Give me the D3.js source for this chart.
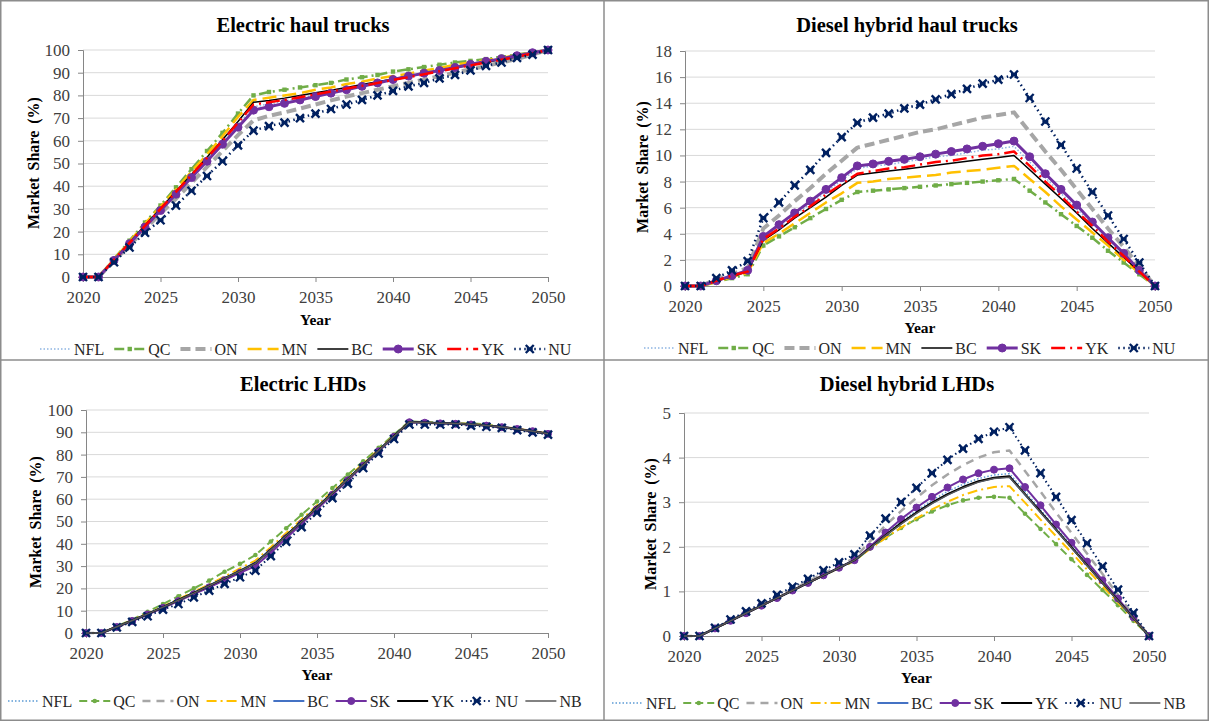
<html>
  <head>
    <title>Market share of mining vehicles by province</title>
    <script src="https://d3js.org/d3.v7.min.js"></script>
    <style>
      body {
        margin: 0;
        background-color: white;
      }
      svg text {
        font-family: "Liberation Serif", "Times New Roman", serif;
      }
    </style>
  </head>
  <body>
    <svg width="1209" height="721"></svg>

    <script>
      // ---- data ----
      var years = [2020, 2021, 2022, 2023, 2024, 2025, 2026, 2027, 2028, 2029, 2030,
                   2031, 2032, 2033, 2034, 2035, 2036, 2037, 2038, 2039, 2040,
                   2041, 2042, 2043, 2044, 2045, 2046, 2047, 2048, 2049, 2050];
      var xTicks = [2020, 2025, 2030, 2035, 2040, 2045, 2050];

      var haulRegions = ["NFL", "QC", "ON", "MN", "BC", "SK", "YK", "NU"];
      var lhdRegions = ["NFL", "QC", "ON", "MN", "BC", "SK", "YK", "NU", "NB"];

      var electricHaulTicks = [0, 10, 20, 30, 40, 50, 60, 70, 80, 90, 100];
      var dieselHaulTicks = [0, 2, 4, 6, 8, 10, 12, 14, 16, 18];
      var electricLhdTicks = [0, 10, 20, 30, 40, 50, 60, 70, 80, 90, 100];
      var dieselLhdTicks = [0, 1, 2, 3, 4, 5];

      // one row per region, same order as haulRegions
      var electricHaul = [
        [0,0,7.4,14.8,22.2,29.6,37,44.4,51.8,59.2,67,75,76.2,77.5,78.8,80.2,81.5,82.8,84.2,85.5,86.8,88.2,89.5,90.8,92.2,93.5,94.8,96,97.4,98.7,100], // NFL
        [0,0,8,16,24,31.5,39.5,47.5,55.5,63.5,72,80,81.5,82.5,83.5,84.5,85.5,87,88,89,90.5,91.5,92.5,93.5,94.5,95.2,96,97,98,99,100], // QC
        [0,0,7,14,21,28,34.5,41.5,48.5,55.5,62.5,69,71,72.5,74.2,76,77.8,79.5,81,82.5,84,85.5,87,88.5,90,91.5,93,94.5,96,98,100], // ON
        [0,0,7.8,15.6,23.5,31,38.5,46.5,54,62,70.5,78,79,80,81,82.5,83.5,85,86,87.5,88.5,89.5,91,92,93.5,94.5,95.5,96.5,97.8,98.8,100], // MN
        [0,0,7.5,15.2,22.8,30.2,37.8,45.2,52.8,60.5,68.5,77,77.8,78.8,80,81.2,82.3,83.5,84.8,86,87.2,88.5,89.7,91,92.2,93.3,94.6,95.8,97,98.5,100], // BC
        [0,0,7.3,14.7,22,29.3,36.5,43.8,51,58.5,66,73.5,75,76.5,78,79.5,81,82.5,84,85.5,87,88.5,89.8,91,92.3,93.7,95,96.2,97.5,98.8,100], // SK
        [0,0,7.5,15,22.5,30,37.5,45,52.5,60,68,76,77,78,79.2,80.5,81.7,83,84.2,85.5,86.8,88,89.3,90.6,92,93.2,94.5,95.7,97,98.5,100], // YK
        [0,0,6.5,13,19.5,25,31.5,38,44.5,51,58,64.5,66.5,68,70,72,74,76,78,80,82,84,85.5,87.5,89,91,93,94.5,96.5,98,100] // NU
      ];

      var dieselHaul = [
        [0,0,0.4,0.8,1.2,3.7,4.6,5.4,6.3,7.2,8.1,9.0,9.2,9.3,9.5,9.7,9.9,10.0,10.2,10.4,10.5,10.7,9.5,8.3,7.1,5.9,4.8,3.6,2.4,1.2,0], // NFL
        [0,0,0.3,0.6,0.9,3.1,3.8,4.5,5.2,5.9,6.6,7.2,7.3,7.4,7.5,7.6,7.7,7.8,7.9,8.0,8.1,8.2,7.3,6.4,5.5,4.6,3.7,2.7,1.8,0.9,0], // QC
        [0,0,0.5,0.9,1.4,4.4,5.4,6.5,7.5,8.6,9.6,10.6,10.9,11.2,11.5,11.8,12.0,12.3,12.6,12.9,13.1,13.3,11.8,10.3,8.9,7.4,5.9,4.4,3.0,1.5,0], // ON
        [0,0,0.3,0.7,1.0,3.3,4.0,4.8,5.6,6.4,7.1,7.9,8.0,8.2,8.3,8.4,8.5,8.7,8.8,8.9,9.05,9.2,8.2,7.2,6.1,5.1,4.1,3.1,2.0,1.0,0], // MN
        [0,0,0.4,0.7,1.1,3.5,4.3,5.2,6.0,6.8,7.7,8.5,8.65,8.8,8.95,9.1,9.25,9.4,9.55,9.7,9.85,10.0,8.9,7.8,6.7,5.6,4.4,3.3,2.2,1.1,0], // BC
        [0,0,0.4,0.8,1.2,3.8,4.7,5.6,6.5,7.4,8.3,9.2,9.35,9.55,9.7,9.9,10.1,10.3,10.5,10.7,10.9,11.1,9.9,8.6,7.4,6.2,4.9,3.7,2.5,1.2,0], // SK
        [0,0,0.4,0.8,1.1,3.6,4.4,5.3,6.1,7.0,7.8,8.6,8.8,9.0,9.1,9.3,9.5,9.6,9.8,10.0,10.1,10.3,9.2,8.0,6.9,5.7,4.6,3.4,2.3,1.1,0], // YK
        [0,0,0.6,1.2,1.9,5.2,6.4,7.7,8.9,10.2,11.4,12.5,12.9,13.2,13.6,13.9,14.3,14.7,15.1,15.5,15.8,16.2,14.4,12.6,10.8,9.0,7.2,5.4,3.6,1.8,0] // NU
      ];

      // one row per region, same order as lhdRegions
      var electricLhd = [
        [0,0,2.8,5.6,8.5,11.6,14.7,17.9,21.1,24.4,27.8,31.2,37.3,43.6,49.9,56.3,62.6,69,75.4,81.8,88.2,94.6,94.4,94.1,93.9,93.6,93.1,92.4,91.5,90.5,89.4], // NFL
        [0,0,3,6,9.5,13,16.5,20,23.5,27.5,31,35,41,47,53,59,65,71,77,83,89,95,94.5,94.5,94,94,93.5,92.5,91.5,90.5,89.5], // QC
        [0,0,2.7,5.5,8.4,11.4,14.5,17.6,20.8,24,27.4,30.7,36.8,43.2,49.5,56,62.4,68.8,75.2,81.7,88.1,94.5,94.3,94,93.8,93.5,93,92.3,91.5,90.5,89.3], // ON
        [0,0,2.9,5.8,8.8,12,15.2,18.5,21.8,25.3,29,32.5,38.5,44.8,51,57.3,63.5,69.8,76,82.3,88.5,94.8,94.5,94.3,94,93.7,93.2,92.5,91.6,90.6,89.5], // MN
        [0,0,2.8,5.6,8.6,11.7,14.8,18,21.3,24.6,28,31.5,37.5,43.8,50,56.5,62.8,69.2,75.5,82,88.3,94.7,94.4,94.2,93.9,93.6,93.1,92.4,91.5,90.5,89.4], // BC
        [0,0,2.7,5.4,8.3,11.3,14.3,17.4,20.5,23.7,27,30,36,42.5,49,55.5,62,68.5,75,81.5,88,94.5,94.3,94,93.8,93.5,93,92.3,91.5,90.5,89.3], // SK
        [0,0,2.8,5.6,8.6,11.6,14.8,18,21.2,24.5,27.9,31.3,37.4,43.7,50,56.4,62.7,69.1,75.5,81.9,88.3,94.6,94.4,94.1,93.9,93.6,93.1,92.4,91.5,90.5,89.4], // YK
        [0,0,2.5,5,7.5,10.5,13,16,19,22,25,28,34.5,41,47.5,54,60.5,67,74,80.5,87,93.5,93.5,93.5,93.5,93,92.5,92,91,90,89], // NU
        [0,0,2.8,5.6,8.6,11.6,14.7,17.9,21.2,24.5,27.8,31.2,37.3,43.6,49.9,56.3,62.6,69,75.4,81.8,88.2,94.6,94.4,94.1,93.9,93.6,93.1,92.4,91.5,90.5,89.4] // NB
      ];

      var dieselLhd = [
        [0,0,0.17,0.34,0.51,0.68,0.85,1.02,1.19,1.36,1.53,1.7,1.99,2.28,2.56,2.81,3.04,3.24,3.4,3.53,3.61,3.64,3.24,2.83,2.43,2.02,1.62,1.21,0.81,0.4,0], // NFL
        [0,0,0.17,0.34,0.51,0.68,0.85,1.02,1.19,1.36,1.52,1.68,1.96,2.2,2.42,2.62,2.79,2.93,3.04,3.1,3.12,3.1,2.74,2.4,2.06,1.72,1.37,1.03,0.69,0.34,0], // QC
        [0,0,0.17,0.35,0.52,0.7,0.87,1.05,1.22,1.4,1.57,1.75,2.12,2.48,2.8,3.1,3.38,3.62,3.83,4.0,4.12,4.16,3.7,3.24,2.77,2.31,1.85,1.39,0.92,0.46,0], // ON
        [0,0,0.17,0.34,0.51,0.68,0.85,1.02,1.19,1.36,1.52,1.69,1.95,2.2,2.43,2.64,2.84,3.01,3.16,3.27,3.34,3.36,2.99,2.61,2.24,1.87,1.49,1.12,0.75,0.37,0], // MN
        [0,0,0.17,0.34,0.51,0.68,0.85,1.02,1.19,1.36,1.53,1.7,1.98,2.26,2.52,2.76,2.98,3.17,3.33,3.46,3.54,3.57,3.17,2.78,2.38,1.98,1.59,1.19,0.79,0.4,0], // BC
        [0,0,0.17,0.34,0.51,0.68,0.85,1.02,1.19,1.36,1.53,1.7,2.0,2.32,2.62,2.88,3.12,3.33,3.51,3.65,3.73,3.76,3.34,2.93,2.5,2.09,1.67,1.25,0.84,0.42,0], // SK
        [0,0,0.17,0.34,0.51,0.68,0.85,1.02,1.19,1.36,1.53,1.7,1.98,2.26,2.53,2.77,2.99,3.18,3.34,3.47,3.55,3.58,3.18,2.79,2.39,1.99,1.59,1.19,0.8,0.4,0], // YK
        [0,0,0.18,0.37,0.55,0.73,0.92,1.1,1.28,1.47,1.65,1.83,2.25,2.63,3.0,3.32,3.65,3.95,4.2,4.42,4.58,4.68,4.16,3.65,3.12,2.6,2.08,1.56,1.04,0.52,0], // NU
        [0,0,0.17,0.34,0.51,0.68,0.85,1.02,1.19,1.36,1.53,1.7,1.97,2.25,2.51,2.75,2.97,3.16,3.32,3.45,3.53,3.56,3.17,2.77,2.38,1.98,1.58,1.19,0.79,0.4,0] // NB
      ];

      // ---- series styles ----
      var haulStyles = {
        NFL: {color: "#8DB4E2", width: 1.5, dash: "1.5,2"},
        QC:  {color: "#70AD47", width: 2.5, dash: "10,4,2,4", marker: "square"},
        ON:  {color: "#A6A6A6", width: 4, dash: "10,5"},
        MN:  {color: "#FFC000", width: 2.5, dash: "14,6"},
        BC:  {color: "#000000", width: 1.5},
        SK:  {color: "#7030A0", width: 3, marker: "circle"},
        YK:  {color: "#FF0000", width: 2.5, dash: "14,5,2,5"},
        NU:  {color: "#002060", width: 2.5, dash: "1.5,3.5", marker: "x"}
      };

      var lhdStyles = {
        NFL: {color: "#5B9BD5", width: 1.5, dash: "1.5,2"},
        QC:  {color: "#70AD47", width: 2, dash: "8,4", marker: "dot"},
        ON:  {color: "#A6A6A6", width: 2.5, dash: "8,6"},
        MN:  {color: "#FFC000", width: 2, dash: "10,4,2,4"},
        BC:  {color: "#4472C4", width: 2},
        SK:  {color: "#7030A0", width: 2, marker: "circle"},
        YK:  {color: "#000000", width: 2},
        NU:  {color: "#002060", width: 2, dash: "1.5,3", marker: "x"},
        NB:  {color: "#595959", width: 1.5}
      };

      var serif = '"Liberation Serif", "Times New Roman", serif';

      var panels = [
        {title: "Electric haul trucks", regions: haulRegions, values: electricHaul, styles: haulStyles,
         ticks: electricHaulTicks, x0: 83, x1: 548, yTop: 50, yBottom: 277,
         titleX: 303, titleY: 32, yLabelX: 33, yLabelY: 163, xLabelY: 325,
         legendX: 40, legendY: 349, legendGap: 10, markerR: 4},
        {title: "Diesel hybrid haul trucks", regions: haulRegions, values: dieselHaul, styles: haulStyles,
         ticks: dieselHaulTicks, x0: 685, x1: 1155, yTop: 51, yBottom: 286,
         titleX: 907, titleY: 32, yLabelX: 642, yLabelY: 167, xLabelY: 333,
         legendX: 644, legendY: 348, legendGap: 10, markerR: 4},
        {title: "Electric LHDs", regions: lhdRegions, values: electricLhd, styles: lhdStyles,
         ticks: electricLhdTicks, x0: 86, x1: 548, yTop: 410, yBottom: 633,
         titleX: 303, titleY: 391, yLabelX: 35, yLabelY: 522, xLabelY: 680,
         legendX: 8, legendY: 701, legendGap: 7, markerR: 3.5},
        {title: "Diesel hybrid LHDs", regions: lhdRegions, values: dieselLhd, styles: lhdStyles,
         ticks: dieselLhdTicks, x0: 684, x1: 1149, yTop: 413, yBottom: 636,
         titleX: 907, titleY: 391, yLabelX: 650, yLabelY: 524, xLabelY: 683,
         legendX: 612, legendY: 703, legendGap: 7, markerR: 3.5}
      ];

      var svg = d3.select("svg");

      svg.append("rect")
        .attr("width", 1209)
        .attr("height", 721)
        .attr("fill", "white");

      // draws one marker symbol centred at x, y
      var drawMarker = function(g, style, x, y, r){
        if(style.marker === "circle"){
          g.append("circle").attr("cx", x).attr("cy", y).attr("r", r)
            .attr("fill", style.color).attr("stroke", style.color);
        } else if(style.marker === "dot"){
          g.append("circle").attr("cx", x).attr("cy", y).attr("r", 2.3)
            .attr("fill", style.color);
        } else if(style.marker === "square"){
          g.append("rect").attr("x", x - 2.2).attr("y", y - 2.2)
            .attr("width", 4.4).attr("height", 4.4).attr("fill", style.color);
        } else if(style.marker === "x"){
          var s = 4;
          g.append("path")
            .attr("d", "M" + (x - s) + "," + (y - s) + "L" + (x + s) + "," + (y + s) +
                       "M" + (x - s) + "," + (y + s) + "L" + (x + s) + "," + (y - s) +
                       "M" + (x - 3) + "," + y + "L" + (x + 3) + "," + y)
            .attr("stroke", style.color)
            .attr("stroke-width", 2.4)
            .attr("fill", "none");
        }
      };

      var drawPanel = function(p){
        var x = d3.scaleLinear().domain([2020, 2050]).range([p.x0, p.x1]);
        var y = d3.scaleLinear().domain([0, d3.max(p.ticks)]).range([p.yBottom, p.yTop]);
        var g = svg.append("g").attr("font-family", serif);

        // gridlines
        g.append("g")
          .selectAll("line")
          .data(p.ticks.slice(1))
          .join("line")
          .attr("x1", p.x0).attr("x2", p.x1)
          .attr("y1", function(d){ return y(d); })
          .attr("y2", function(d){ return y(d); })
          .attr("stroke", "#D9D9D9")
          .attr("stroke-width", 1);

        var yAxis = g.append("g")
          .attr("transform", "translate(" + p.x0 + ",0)")
          .call(d3.axisLeft(y).tickValues(p.ticks).tickFormat(d3.format("d")).tickSize(5).tickPadding(8));

        var xAxis = g.append("g")
          .attr("transform", "translate(0," + p.yBottom + ")")
          .call(d3.axisBottom(x).tickValues(xTicks).tickFormat(d3.format("d")).tickSize(5).tickPadding(9));

        [yAxis, xAxis].forEach(function(a){
          a.attr("font-family", serif);
          a.selectAll("path, line").attr("stroke", "#868686").attr("stroke-width", 1);
          a.selectAll("text")
            .attr("fill", "#404040")
            .style("font-family", serif)
            .style("font-size", "17px");
        });

        // series, first region drawn first (last one ends on top)
        var line = d3.line()
          .x(function(d, i){ return x(years[i]); })
          .y(function(d){ return y(d); });

        p.regions.forEach(function(region, k){
          var style = p.styles[region];
          var vals = p.values[k];
          var sg = g.append("g");
          sg.append("path")
            .datum(vals)
            .attr("d", line)
            .attr("fill", "none")
            .attr("stroke", style.color)
            .attr("stroke-width", style.width)
            .attr("stroke-dasharray", style.dash || null)
            .attr("stroke-linejoin", "round");
          if(style.marker){
            vals.forEach(function(v, i){
              drawMarker(sg, style, x(years[i]), y(v), p.markerR);
            });
          }
        });

        // titles
        g.append("text")
          .attr("x", p.titleX).attr("y", p.titleY)
          .attr("text-anchor", "middle")
          .style("font-size", "20.5px")
          .style("font-weight", "bold")
          .text(p.title);

        g.append("text")
          .attr("transform", "translate(" + p.yLabelX + "," + p.yLabelY + ") rotate(-90)")
          .attr("text-anchor", "middle")
          .attr("dy", "0.35em")
          .style("font-size", "16px")
          .style("font-weight", "bold")
          .style("word-spacing", "3px")
          .text("Market Share (%)");

        g.append("text")
          .attr("x", (p.x0 + p.x1) / 2).attr("y", p.xLabelY)
          .attr("text-anchor", "middle")
          .style("font-size", "15.5px")
          .style("font-weight", "bold")
          .text("Year");

        // legend
        var lx = p.legendX;
        p.regions.forEach(function(region){
          var style = p.styles[region];
          var lg = g.append("g");
          lg.append("line")
            .attr("x1", lx).attr("x2", lx + 31)
            .attr("y1", p.legendY).attr("y2", p.legendY)
            .attr("stroke", style.color)
            .attr("stroke-width", style.width)
            .attr("stroke-dasharray", style.dash || null);
          if(style.marker){
            drawMarker(lg, style, lx + 15.5, p.legendY, p.markerR);
          }
          var t = lg.append("text")
            .attr("x", lx + 34).attr("y", p.legendY)
            .attr("dy", "0.35em")
            .attr("fill", "#262626")
            .style("font-size", "16px")
            .text(region);
          lx += 34 + t.node().getComputedTextLength() + p.legendGap;
        });
      };

      panels.forEach(drawPanel);

      // panel frame
      var frame = svg.append("g")
        .attr("stroke", "#8C8C8C")
        .attr("stroke-width", 1.5)
        .attr("fill", "none");
      frame.append("rect").attr("x", 0.75).attr("y", 0.75).attr("width", 1207.5).attr("height", 719.5);
      frame.append("line").attr("x1", 604).attr("x2", 604).attr("y1", 0).attr("y2", 721);
      frame.append("line").attr("x1", 0).attr("x2", 1209).attr("y1", 360).attr("y2", 360);
    </script>
  </body>
</html>
